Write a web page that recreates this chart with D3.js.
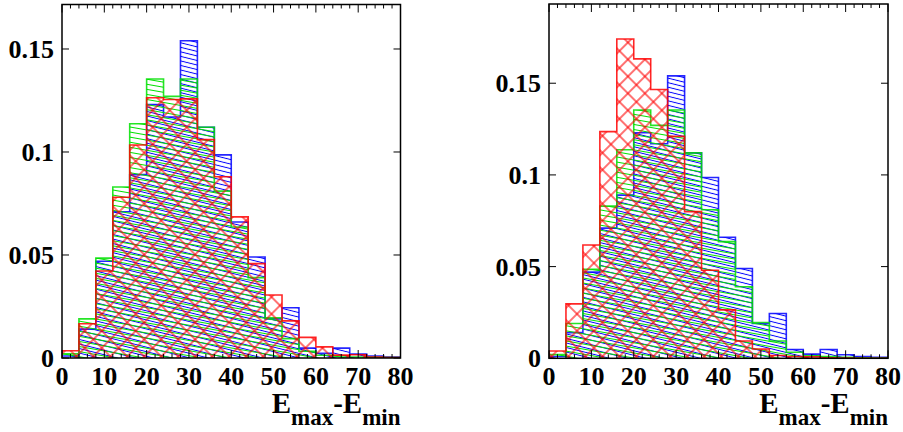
<!DOCTYPE html>
<html>
<head>
<meta charset="utf-8">
<script src="https://cdn.jsdelivr.net/npm/d3@7"></script>
<style>
  body { margin: 0; background: #fff; }
</style>
</head>
<body>
<svg id="chart" width="903" height="432" font-family="'Liberation Serif', 'Times New Roman', serif" font-weight="bold"></svg>
<script>
// lower edge of each histogram bin (bin width 4)
var binLow = [0, 4, 8, 12, 16, 20, 24, 28, 32, 36, 40, 44, 48, 52, 56, 60, 64, 68, 72, 76];
var binWidth = 4;

// blue and green are the same in both pads, only red changes
var blueVals = [0.001, 0.014, 0.047, 0.071, 0.089, 0.123, 0.117, 0.154, 0.112, 0.0986,
                0.066, 0.049, 0.019, 0.0244, 0.0048, 0.0023, 0.0048, 0.0019, 0.001, 0.0005];
var greenVals = [0.002, 0.019, 0.0485, 0.083, 0.1137, 0.1354, 0.127, 0.1354, 0.112, 0.081,
                 0.0636, 0.039, 0.0195, 0.0094, 0.0033, 0.0013, 0.001, 0.0005, 0.0003, 0.0002];
var redLeftVals = [0.0035, 0.0166, 0.0422, 0.078, 0.1034, 0.1263, 0.1255, 0.1258, 0.106, 0.088,
                   0.0685, 0.0458, 0.0306, 0.018, 0.010, 0.0054, 0.0014, 0.0016, 0.0005, 0.0002];
var redRightVals = [0.004, 0.0297, 0.0618, 0.1236, 0.1741, 0.1633, 0.1466, 0.121, 0.080, 0.048,
                    0.0264, 0.0094, 0.0051, 0.0015, 0.001, 0.0008, 0.0003, 0.0002, 0, 0];

var xTickValues = [0, 10, 20, 30, 40, 50, 60, 70, 80];
var xMinorStep = 2;
var yTickValues = [0, 0.05, 0.1, 0.15];
var yTickLabels = ["0", "0.05", "0.1", "0.15"];

var panels = [
    { name: "left",  x0: 62,  x1: 400.5, y0: 4.5, y1: 358,   yMax: 0.1716, red: redLeftVals },
    { name: "right", x0: 549, x1: 888,   y0: 4,   y1: 358.3, yMax: 0.1932, red: redRightVals }
];

var svg = d3.select("#chart");
var defs = svg.append("defs");

// ROOT style hatches, anchored on the canvas so they run on across bins
function linePattern(id, color, spacing, angle) {
    var p = defs.append("pattern")
        .attr("id", id)
        .attr("patternUnits", "userSpaceOnUse")
        .attr("width", 20)
        .attr("height", spacing)
        .attr("patternTransform", "rotate(" + angle + ")");
    p.append("line")
        .attr("x1", 0).attr("x2", 20)
        .attr("y1", spacing / 2).attr("y2", spacing / 2)
        .attr("stroke", color)
        .attr("stroke-width", 1);
}
linePattern("hatchBlue", "#0000ff", 4.4, 14);
linePattern("hatchGreen", "#00e000", 5, 10);

var cross = defs.append("pattern")
    .attr("id", "hatchRed")
    .attr("patternUnits", "userSpaceOnUse")
    .attr("width", 12).attr("height", 12)
    .attr("patternTransform", "rotate(45)");
cross.append("line").attr("x1", 0).attr("x2", 12).attr("y1", 6).attr("y2", 6)
    .attr("stroke", "#ff0000").attr("stroke-width", 1.1);
cross.append("line").attr("x1", 6).attr("x2", 6).attr("y1", 0).attr("y2", 12)
    .attr("stroke", "#ff0000").attr("stroke-width", 1.1);

function stepPoints(vals) {
    var pts = [[binLow[0], 0]];
    vals.forEach(function(v, i) {
        pts.push([binLow[i], v]);
        pts.push([binLow[i] + binWidth, v]);
    });
    pts.push([binLow[binLow.length - 1] + binWidth, 0]);
    return pts;
}

panels.forEach(function(pd) {
    var x = d3.scaleLinear().domain([0, 80]).range([pd.x0, pd.x1]);
    var y = d3.scaleLinear().domain([0, pd.yMax]).range([pd.y1, pd.y0]);
    var g = svg.append("g").attr("class", "pad-" + pd.name);

    defs.append("clipPath").attr("id", "clip-" + pd.name)
        .append("rect")
        .attr("x", pd.x0).attr("y", pd.y0)
        .attr("width", pd.x1 - pd.x0).attr("height", pd.y1 - pd.y0);

    var line = d3.line()
        .x(function(d) { return x(d[0]); })
        .y(function(d) { return y(d[1]); });

    var hists = [
        { vals: blueVals, color: "#0000ff", fill: "url(#hatchBlue)" },
        { vals: greenVals, color: "#00e000", fill: "url(#hatchGreen)" },
        { vals: pd.red, color: "#ff0000", fill: "url(#hatchRed)" }
    ];

    var plot = g.append("g").attr("clip-path", "url(#clip-" + pd.name + ")");
    hists.forEach(function(h) {
        var pts = stepPoints(h.vals);
        plot.append("path")
            .attr("d", line(pts) + "Z")
            .attr("fill", h.fill)
            .attr("stroke", "none");
        plot.append("path")
            .attr("d", line(pts))
            .attr("fill", "none")
            .attr("stroke", h.color)
            .attr("stroke-opacity", 0.85)
            .attr("stroke-width", 1.6);
    });

    // frame
    g.append("rect")
        .attr("x", pd.x0).attr("y", pd.y0)
        .attr("width", pd.x1 - pd.x0).attr("height", pd.y1 - pd.y0)
        .attr("fill", "none")
        .attr("stroke", "#000")
        .attr("stroke-width", 1.5);

    // x ticks on bottom and top, pointing inwards
    var minor = d3.range(0, 80 + 0.01, xMinorStep);
    var ticks = g.append("g").attr("stroke", "#000").attr("stroke-width", 1);
    minor.forEach(function(v) {
        var len = xTickValues.indexOf(v) >= 0 ? 8 : 4;
        ticks.append("line")
            .attr("x1", x(v)).attr("x2", x(v))
            .attr("y1", pd.y1).attr("y2", pd.y1 - len);
        ticks.append("line")
            .attr("x1", x(v)).attr("x2", x(v))
            .attr("y1", pd.y0).attr("y2", pd.y0 + len);
    });
    // y ticks on both sides
    yTickValues.forEach(function(v) {
        ticks.append("line")
            .attr("x1", pd.x0).attr("x2", pd.x0 + 7)
            .attr("y1", y(v)).attr("y2", y(v));
        ticks.append("line")
            .attr("x1", pd.x1).attr("x2", pd.x1 - 7)
            .attr("y1", y(v)).attr("y2", y(v));
    });

    g.selectAll(".xlab")
        .data(xTickValues)
        .enter().append("text")
        .attr("class", "xlab")
        .attr("x", function(d) { return x(d); })
        .attr("y", 385)
        .attr("text-anchor", "middle")
        .attr("font-size", 26)
        .text(function(d) { return d; });

    g.selectAll(".ylab")
        .data(yTickValues)
        .enter().append("text")
        .attr("class", "ylab")
        .attr("x", pd.x0 - 8)
        .attr("y", function(d) { return y(d); })
        .attr("dy", "0.35em")
        .attr("text-anchor", "end")
        .attr("font-size", 26)
        .text(function(d, i) { return yTickLabels[i]; });

    // axis title E_max - E_min
    var title = g.append("text")
        .attr("x", pd.x1)
        .attr("y", 413)
        .attr("text-anchor", "end")
        .attr("font-size", 29);
    title.append("tspan").text("E");
    title.append("tspan").attr("dy", 12).attr("font-size", 23).text("max");
    title.append("tspan").attr("dy", -12).text("-E");
    title.append("tspan").attr("dy", 12).attr("font-size", 23).text("min");
});
</script>
</body>
</html>
